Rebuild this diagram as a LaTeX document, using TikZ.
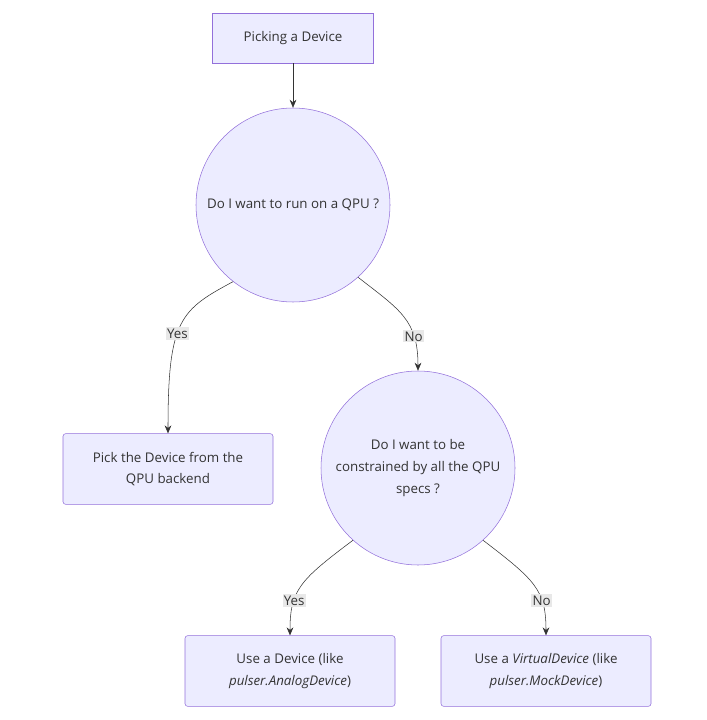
\documentclass[tikz,border=0pt]{standalone}
\usepackage{fontspec}
\setmainfont{Open Sans}
\usetikzlibrary{arrows.meta}
\definecolor{nodefill}{HTML}{ECECFF}
\definecolor{nodeline}{HTML}{9370DB}
\definecolor{edgeline}{HTML}{333333}
\definecolor{labelfill}{HTML}{E8E8E8}
\tikzstyle{box} = [rectangle, draw=nodeline, fill=nodefill, align=center, font=\fontsize{10}{16}\selectfont, text=edgeline]
\tikzstyle{question} = [circle, draw=nodeline, fill=nodefill, align=center, font=\fontsize{10}{16.5}\selectfont, text=edgeline, minimum size=145.5pt, inner sep=0pt]
\tikzstyle{arrow} = [draw=edgeline, -{Stealth[length=6pt,width=5pt]}]
\tikzstyle{answer} = [fill=labelfill, inner sep=1pt, font=\fontsize{10}{12}\selectfont, text=edgeline]

\begin{document}
\begin{tikzpicture}[x=0.75pt,y=-0.75pt]
    \useasboundingbox (0,0) rectangle (706,720);
    \node [box, minimum width=120.75pt, minimum height=37.5pt] at (293,38) (start) {Picking a Device};
    \node [question] at (293,205) (qpu) {Do I want to run on a QPU ?};
    \node [box, rounded corners=2pt, minimum width=157.5pt, minimum height=53pt] at (168,469) (backend) {Pick the Device from the\\QPU backend};
    \node [question] at (418,468) (specs) {Do I want to be\\constrained by all the QPU\\specs ?};
    \node [box, rounded corners=2pt, minimum width=157.5pt, minimum height=53pt] at (290,671) (real) {Use a Device (like\\\textit{pulser.AnalogDevice})};
    \node [box, rounded corners=2pt, minimum width=157.5pt, minimum height=53pt] at (546,671) (virtual) {Use a \textit{VirtualDevice} (like\\\textit{pulser.MockDevice})};

    \draw [arrow] (start) -- (qpu);
    \draw [arrow] (qpu.232) .. controls (180,310) and (168,320) .. node[answer, pos=0.56] {Yes} (backend.north);
    \draw [arrow] (qpu.312) .. controls (400,310) and (418,320) .. node[answer, pos=0.72] {No} (specs.north);
    \draw [arrow] (specs.228) .. controls (300,580) and (290,590) .. node[answer, pos=0.68] {Yes} (real.north);
    \draw [arrow] (specs.312) .. controls (535,580) and (546,590) .. node[answer, pos=0.68] {No} (virtual.north);
\end{tikzpicture}
\end{document}
